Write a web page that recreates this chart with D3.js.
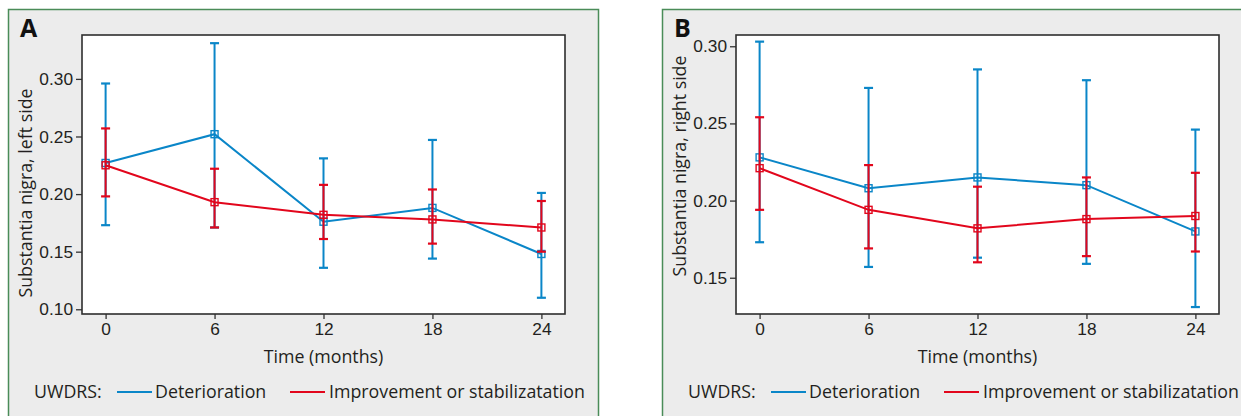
<!DOCTYPE html>
<html>
<head>
<meta charset="utf-8">
<script src="https://cdn.jsdelivr.net/npm/d3@7"></script>
<style>
  body { margin: 0; background: #fff; }
  svg { display: block; font-family: "Open Sans", "Noto Sans", sans-serif; }
  .tick-label { font-size: 17.3px; fill: #231f20; }
</style>
</head>
<body>
<svg id="chart" width="1241" height="416"></svg>
<script>
// time points (months)
const months = [0, 6, 12, 18, 24];
const xTicks = [0, 6, 12, 18, 24];

// panel A: left side
const leftDetMean = [0.227, 0.252, 0.176, 0.188, 0.148];
const leftDetLow  = [0.173, 0.171, 0.136, 0.144, 0.110];
const leftDetHigh = [0.296, 0.331, 0.231, 0.247, 0.201];
const leftImpMean = [0.225, 0.193, 0.182, 0.178, 0.171];
const leftImpLow  = [0.198, 0.171, 0.161, 0.157, 0.150];
const leftImpHigh = [0.257, 0.222, 0.208, 0.204, 0.194];
const leftTicks = [0.10, 0.15, 0.20, 0.25, 0.30];

// panel B: right side
const rightDetMean = [0.228, 0.208, 0.215, 0.210, 0.180];
const rightDetLow  = [0.173, 0.157, 0.163, 0.159, 0.131];
const rightDetHigh = [0.303, 0.273, 0.285, 0.278, 0.246];
const rightImpMean = [0.221, 0.194, 0.182, 0.188, 0.190];
const rightImpLow  = [0.194, 0.169, 0.160, 0.164, 0.167];
const rightImpHigh = [0.254, 0.223, 0.209, 0.215, 0.218];
const rightTicks = [0.15, 0.20, 0.25, 0.30];

const blue = '#0a86c8';
const red = '#e2061c';
const textSize = 17.8;

function series(mean, low, high) {
    return months.map((m, i) => ({ m: m, v: mean[i], lo: low[i], hi: high[i] }));
}

function drawPanel(svg, opt) {
    let g = svg.append('g').attr('transform', `translate(${opt.dx},0)`);

    // panel background
    g.append('rect')
        .attr('x', 8.5).attr('y', 9.5)
        .attr('width', 590).attr('height', 430)
        .attr('fill', '#ececec')
        .attr('stroke', '#4a8c58')
        .attr('stroke-width', 1.5);

    let left = 82, right = 565, top = 35, bottom = 314;

    let x = d3.scaleLinear().domain([-1.3, 25.3]).range([left, right]);
    let y = d3.scaleLinear().domain(opt.yDomain).range([bottom, top]);

    g.append('rect')
        .attr('x', left).attr('y', top)
        .attr('width', right - left).attr('height', bottom - top)
        .attr('fill', '#fff');

    let yAxis = g.append('g')
        .attr('transform', `translate(${left},0)`)
        .call(d3.axisLeft(y).tickValues(opt.ticks).tickFormat(d3.format('.2f')).tickSize(6).tickPadding(3));
    let xAxis = g.append('g')
        .attr('transform', `translate(0,${bottom})`)
        .call(d3.axisBottom(x).tickValues(xTicks).tickSize(5).tickPadding(4));

    [yAxis, xAxis].forEach(a => {
        a.select('.domain').remove();
        a.selectAll('.tick line').attr('stroke', '#333').attr('stroke-width', 1.3);
        a.selectAll('.tick text').attr('class', 'tick-label').attr('font-family', null).attr('font-size', null);
    });

    // frame
    g.append('rect')
        .attr('x', left).attr('y', top)
        .attr('width', right - left).attr('height', bottom - top)
        .attr('fill', 'none')
        .attr('stroke', '#2e2e2e')
        .attr('stroke-width', 1.6);

    // panel letter
    g.append('text')
        .attr('x', 20).attr('y', 37)
        .attr('font-size', 25).attr('font-weight', 700)
        .attr('fill', '#111')
        .text(opt.letter);

    // y label
    g.append('text')
        .attr('transform', `translate(32,${opt.yLabelMid}) rotate(-90)`)
        .attr('text-anchor', 'middle')
        .attr('font-size', textSize).attr('fill', '#231f20')
        .text(opt.yLabel);

    // x label
    g.append('text')
        .attr('x', (left + right) / 2).attr('y', 363)
        .attr('text-anchor', 'middle')
        .attr('font-size', textSize).attr('fill', '#231f20')
        .text('Time (months)');

    let line = d3.line().x(d => x(d.m)).y(d => y(d.v));

    opt.data.forEach(s => {
        let sg = g.append('g');
        let bars = sg.selectAll('.err').data(s.points).enter().append('g');
        bars.append('line')
            .attr('x1', d => x(d.m)).attr('x2', d => x(d.m))
            .attr('y1', d => y(d.lo)).attr('y2', d => y(d.hi))
            .attr('stroke', s.color).attr('stroke-width', 2);
        ['lo', 'hi'].forEach(k => {
            bars.append('line')
                .attr('x1', d => x(d.m) - 4.5).attr('x2', d => x(d.m) + 4.5)
                .attr('y1', d => y(d[k])).attr('y2', d => y(d[k]))
                .attr('stroke', s.color).attr('stroke-width', 2.2);
        });
        sg.append('path')
            .datum(s.points)
            .attr('d', line)
            .attr('fill', 'none')
            .attr('stroke', s.color)
            .attr('stroke-width', 2);
        sg.selectAll('.mk').data(s.points).enter().append('rect')
            .attr('x', d => x(d.m) - 3.5).attr('y', d => y(d.v) - 3.5)
            .attr('width', 7).attr('height', 7)
            .attr('fill', 'none')
            .attr('stroke', s.color).attr('stroke-width', 1.4);
    });

    // legend
    let lg = g.append('g').attr('transform', 'translate(0,398)');
    lg.append('text').attr('x', 34).attr('y', 0).attr('font-size', textSize).attr('fill', '#231f20').text('UWDRS:');
    lg.append('line').attr('x1', 117).attr('x2', 152).attr('y1', -6).attr('y2', -6).attr('stroke', blue).attr('stroke-width', 2);
    lg.append('text').attr('x', 155).attr('y', 0).attr('font-size', textSize).attr('fill', '#231f20').text('Deterioration');
    lg.append('line').attr('x1', 290).attr('x2', 325).attr('y1', -6).attr('y2', -6).attr('stroke', red).attr('stroke-width', 2);
    lg.append('text').attr('x', 329).attr('y', 0).attr('font-size', textSize).attr('fill', '#231f20').text('Improvement or stabilizatation');
}

let svg = d3.select('#chart');

drawPanel(svg, {
    dx: 0,
    letter: 'A',
    yDomain: [0.0959, 0.3381],
    ticks: leftTicks,
    yLabel: 'Substantia nigra, left side',
    yLabelMid: 193,
    data: [
        { color: blue, points: series(leftDetMean, leftDetLow, leftDetHigh) },
        { color: red, points: series(leftImpMean, leftImpLow, leftImpHigh) }
    ]
});

drawPanel(svg, {
    dx: 654,
    letter: 'B',
    yDomain: [0.1265, 0.3073],
    ticks: rightTicks,
    yLabel: 'Substantia nigra, right side',
    yLabelMid: 166,
    data: [
        { color: blue, points: series(rightDetMean, rightDetLow, rightDetHigh) },
        { color: red, points: series(rightImpMean, rightImpLow, rightImpHigh) }
    ]
});
</script>
</body>
</html>
